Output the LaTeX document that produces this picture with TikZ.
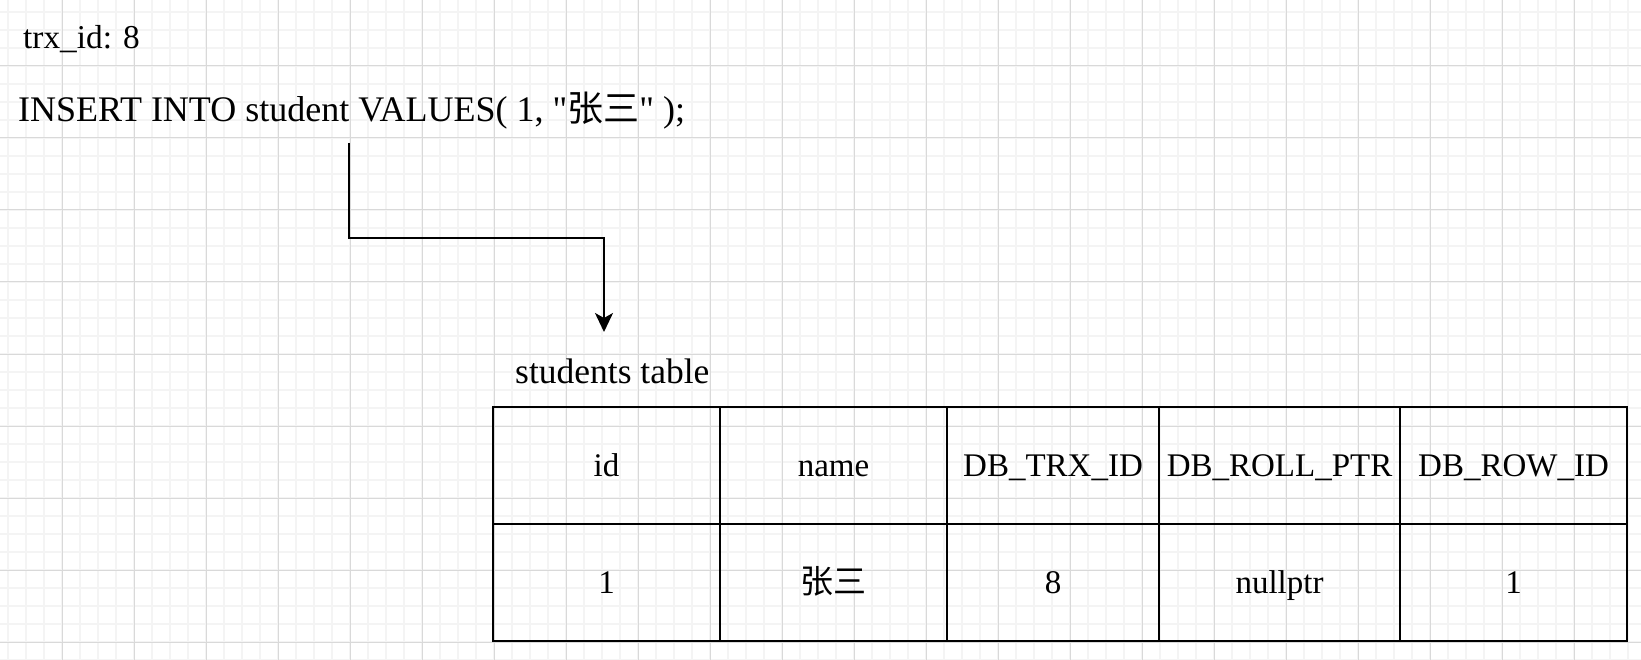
\documentclass[tikz,border=0pt]{standalone}
\usepackage{fontspec}
\setmainfont{Liberation Serif}
\newfontfamily\serif{Liberation Serif}
\newfontfamily\cjk{Noto Sans CJK SC}
\usetikzlibrary{arrows.meta}
\definecolor{minorc}{HTML}{F4F4F4}
\definecolor{majorc}{HTML}{D9D9D9}
\begin{document}
\begin{tikzpicture}[x=1pt,y=-1pt,
  minorgrid/.style={draw=minorc, line width=1.3pt},
  majorgrid/.style={draw=majorc, line width=1pt},
  txt/.style={inner sep=0pt, anchor=base west},
  cell/.style={draw=black, line width=2.6pt, inner sep=0pt, minimum height=117pt,
    text height=22.4pt, text depth=0pt, font=\serif\fontsize{33}{38}\selectfont},
  conn/.style={draw=black, line width=2pt, -{Stealth[length=19pt,width=18pt,inset=5pt]}}]
\useasboundingbox (0,0) rectangle (1641,660);
\fill[white] (0,0) rectangle (1641,660);
\foreach \i in {0,...,91} \draw[minorgrid] ({8+18*\i},0) -- ({8+18*\i},660);
\foreach \i in {0,...,36} \draw[minorgrid] (0,{12+18*\i}) -- (1641,{12+18*\i});
\foreach \i in {0,...,22} \draw[majorgrid] ({62+72*\i},0) -- ({62+72*\i},660);
\foreach \i in {0,...,8} \draw[majorgrid] (0,{66+72*\i}) -- (1641,{66+72*\i});

\node[txt, font=\serif\fontsize{33.3}{38}\selectfont] (trx) at (23,49) {trx\_id: 8};
\node[txt, font=\serif\fontsize{36}{40}\selectfont] (sql) at (18,122) {INSERT INTO student VALUES( 1, "{\cjk 张三}" );};
\node[txt, font=\serif\fontsize{35.5}{40}\selectfont] (lbl) at (515,383) {students table};

\node[cell, minimum width=227pt] (h1) at (606.5,465.5) {id};
\node[cell, minimum width=227pt] (h2) at (833.5,465.5) {name};
\node[cell, minimum width=212pt] (h3) at (1053,465.5) {DB\_TRX\_ID};
\node[cell, minimum width=241pt] (h4) at (1279.5,465.5) {DB\_ROLL\_PTR};
\node[cell, minimum width=227pt] (h5) at (1513.5,465.5) {DB\_ROW\_ID};
\node[cell, minimum width=227pt] (d1) at (606.5,582.5) {1};
\node[cell, minimum width=227pt] (d2) at (833.5,582.5) {\cjk 张三};
\node[cell, minimum width=212pt] (d3) at (1053,582.5) {8};
\node[cell, minimum width=241pt] (d4) at (1279.5,582.5) {nullptr};
\node[cell, minimum width=227pt] (d5) at (1513.5,582.5) {1};

\coordinate (s) at (349,143);
\coordinate (bend) at (349,238);
\coordinate (e) at (604,332);
\draw[conn] (s) -- (bend) -| (e);
\end{tikzpicture}
\end{document}
